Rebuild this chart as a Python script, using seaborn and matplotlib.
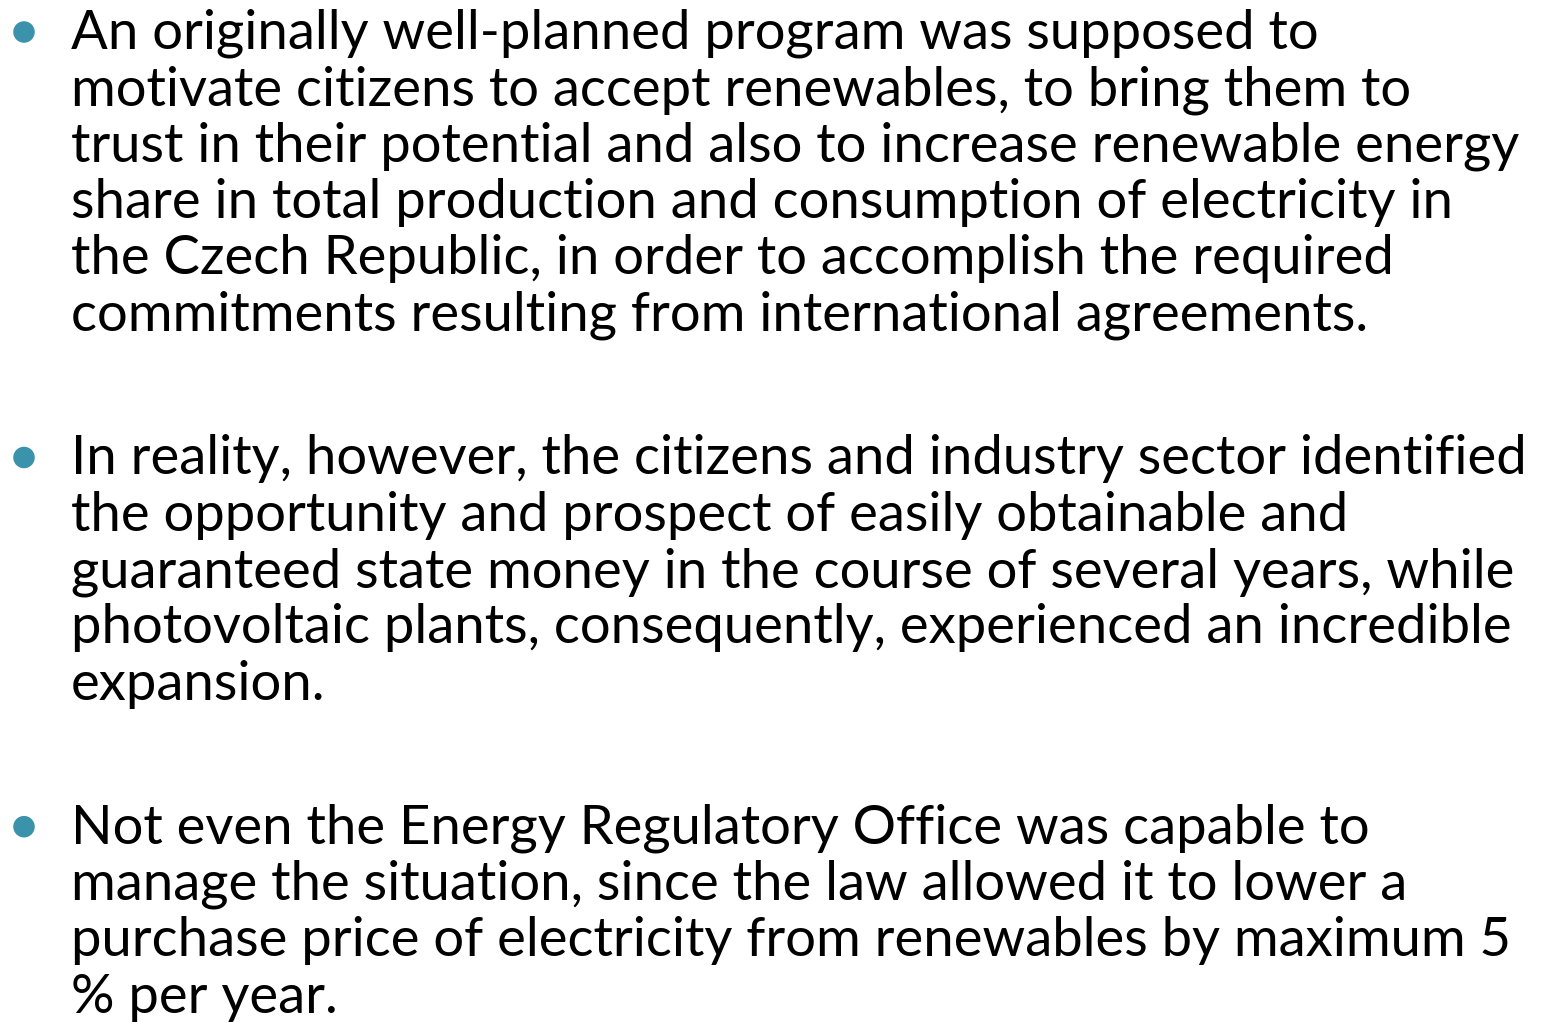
import matplotlib
matplotlib.use("Agg")
import matplotlib.pyplot as plt
import seaborn as sns
import pandas as pd

# slide text, already wrapped as in the reference
para_1 = [
    "An originally well-planned program was supposed to",
    "motivate citizens to accept renewables, to bring them to",
    "trust in their potential and also to increase renewable energy",
    "share in total production and consumption of electricity in",
    "the Czech Republic, in order to accomplish the required",
    "commitments resulting from international agreements.",
]
para_2 = [
    "In reality, however, the citizens and industry sector identified",
    "the opportunity and prospect of easily obtainable and",
    "guaranteed state money in the course of several years, while",
    "photovoltaic plants, consequently, experienced an incredible",
    "expansion.",
]
para_3 = [
    "Not even the Energy Regulatory Office was capable to",
    "manage the situation, since the law allowed it to lower a",
    "purchase price of electricity from renewables by maximum 5",
    "% per year.",
]
paragraphs = [para_1, para_2, para_3]

BULLET = "#3A93AA"
W, H = 1541, 1022

sns.set_theme(style="white")
plt.rcParams["font.family"] = ["Lato", "DejaVu Sans"]

fig = plt.figure(figsize=(W / 100, H / 100), dpi=100)
ax = fig.add_axes([0, 0, 1, 1])
ax.set_xlim(0, W)
ax.set_ylim(H, 0)
ax.axis("off")

first_base = 49
pitch = 56.3
para_gap = 87.7

rows = []
line_no = 0
for p, lines in enumerate(paragraphs):
    for j, line in enumerate(lines):
        y = first_base + line_no * pitch + p * para_gap
        ax.text(71, y, line, fontsize=39.2, color="black", va="baseline", ha="left")
        if j == 0:
            rows.append({"x": 24, "y": y - 17})
        line_no += 1

bullets = pd.DataFrame(rows)
sns.scatterplot(data=bullets, x="x", y="y", ax=ax, s=240, color=BULLET,
                edgecolor="none", linewidth=0, legend=False)

fig.savefig("out.png", dpi=100)
